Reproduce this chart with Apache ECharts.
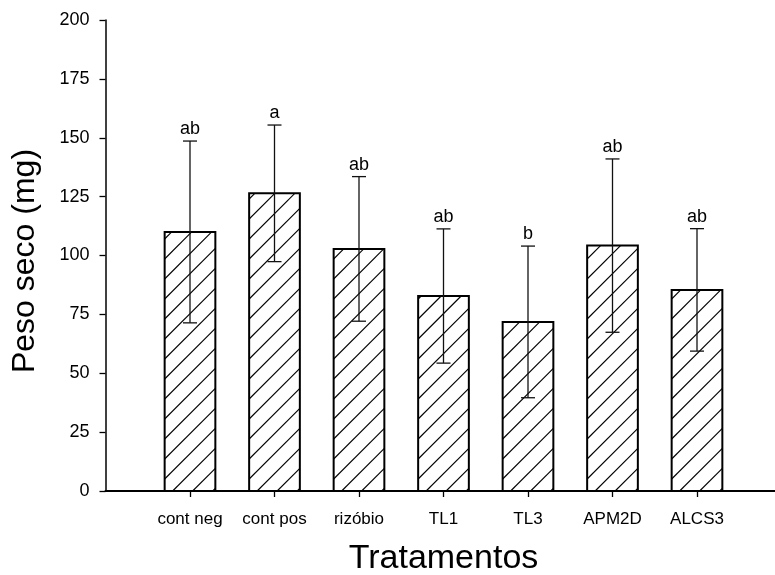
<!DOCTYPE html>
<html>
<head>
<meta charset="utf-8">
<title>Peso seco por tratamento</title>
<script src="https://cdn.jsdelivr.net/npm/echarts@6/dist/echarts.min.js"></script>
<style>
  html, body { margin: 0; padding: 0; background: #fff; }
  #chart { width: 775px; height: 575px; }
</style>
</head>
<body>
<div id="chart"></div>
<script>
// Treatments, mean dry weight (mg), standard deviation and significance letters
const categories = ['cont neg', 'cont pos', 'rizóbio', 'TL1', 'TL3', 'APM2D', 'ALCS3'];
const means = [110.0, 126.4, 102.8, 82.8, 71.8, 104.2, 85.4];
const errors = [38.6, 29.0, 30.7, 28.5, 32.2, 36.8, 26.0];
const letters = ['ab', 'a', 'ab', 'ab', 'b', 'ab', 'ab'];
const yTicks = [0, 25, 50, 75, 100, 125, 150, 175, 200];

const FONT = 'Liberation Sans, Arial, Helvetica, sans-serif';
const BAR_W = 0.6;        // bar width in x-axis units
const HATCH_STEP = 20;    // vertical spacing of the diagonal hatch, px
const CAP_HALF = 7;       // half width of error-bar caps, px

// positions 1..n on a numeric x axis
const positions = categories.map((_, i) => i + 1);
const rows = categories.map((_, i) => [positions[i], means[i], errors[i], i]);

function renderBar(params, api) {
  const x = api.value(0);
  const m = api.value(1);
  const e = api.value(2);
  const idx = api.value(3);
  const base = api.coord([x, 0]);
  const top = api.coord([x, m]);
  const hi = api.coord([x, m + e]);
  const lo = api.coord([x, m - e]);
  const w = api.size([BAR_W, 0])[0];
  const x0 = base[0] - w / 2, x1 = base[0] + w / 2;
  const y0 = top[1], y1 = base[1];

  const children = [];
  // white fill
  children.push({ type: 'rect', shape: { x: x0, y: y0, width: w, height: y1 - y0 },
    style: { fill: '#fff', stroke: null } });
  // diagonal hatch "/" clipped to the bar
  const cStart = x0 + y1 + 8 - Math.ceil((w + (y1 - y0)) / HATCH_STEP + 2) * HATCH_STEP;
  for (let c = cStart; c <= x1 + y1 + HATCH_STEP; c += HATCH_STEP) {
    const xa = Math.max(x0, c - y1);
    const xb = Math.min(x1, c - y0);
    if (xb - xa > 0.5) {
      children.push({ type: 'line', shape: { x1: xa, y1: c - xa, x2: xb, y2: c - xb },
        style: { stroke: '#000', lineWidth: 1.1 } });
    }
  }
  // outline
  children.push({ type: 'rect', shape: { x: x0, y: y0, width: w, height: y1 - y0 },
    style: { fill: null, stroke: '#000', lineWidth: 2 } });
  // error bar
  children.push({ type: 'line', shape: { x1: hi[0], y1: hi[1], x2: lo[0], y2: lo[1] },
    style: { stroke: '#111', lineWidth: 1.3 } });
  children.push({ type: 'line', shape: { x1: hi[0] - CAP_HALF, y1: hi[1], x2: hi[0] + CAP_HALF, y2: hi[1] },
    style: { stroke: '#111', lineWidth: 1.3 } });
  children.push({ type: 'line', shape: { x1: lo[0] - CAP_HALF, y1: lo[1], x2: lo[0] + CAP_HALF, y2: lo[1] },
    style: { stroke: '#111', lineWidth: 1.3 } });
  // significance letter
  children.push({ type: 'text', x: hi[0], y: hi[1] - 3,
    style: { text: letters[idx], fill: '#000', font: '18px ' + FONT,
      align: 'center', verticalAlign: 'bottom' } });
  return { type: 'group', children: children };
}

const chart = echarts.init(document.getElementById('chart'), null, { renderer: 'canvas' });
chart.setOption({
  backgroundColor: '#fff',
  animation: false,
  grid: { left: 105.5, top: 20, width: 676, height: 471, containLabel: false, outerBoundsMode: 'none' },
  graphic: [{
    type: 'text', x: 25, y: 261, rotation: Math.PI / 2,
    style: { text: 'Peso seco (mg)', font: '32px ' + FONT, fill: '#000',
      align: 'center', verticalAlign: 'middle' }
  }],
  xAxis: {
    type: 'value', min: 0, max: categories.length + 1, interval: 1,
    name: 'Tratamentos', nameLocation: 'middle', nameGap: 51,
    nameTextStyle: { fontSize: 34, fontFamily: FONT, color: '#000' },
    axisLine: { lineStyle: { color: '#000', width: 2 } },
    axisTick: { show: true, length: 6, customValues: positions, lineStyle: { color: '#000', width: 1.3 } },
    axisLabel: { customValues: positions, formatter: v => categories[Math.round(v) - 1] || '',
      fontSize: 17, fontFamily: FONT, color: '#000', margin: 20 },
    splitLine: { show: false }
  },
  yAxis: {
    type: 'value', min: 0, max: 200, interval: 25,
    axisLine: { show: true, lineStyle: { color: '#000', width: 1.5 } },
    axisTick: { show: true, length: 6, customValues: yTicks, lineStyle: { color: '#000', width: 1.3 } },
    axisLabel: { customValues: yTicks, fontSize: 18, fontFamily: FONT, color: '#000', margin: 16 },
    splitLine: { show: false }
  },
  series: [{
    type: 'custom',
    renderItem: renderBar,
    encode: { x: 0, y: [1, 2] },
    data: rows,
    clip: false
  }]
});
</script>
</body>
</html>
